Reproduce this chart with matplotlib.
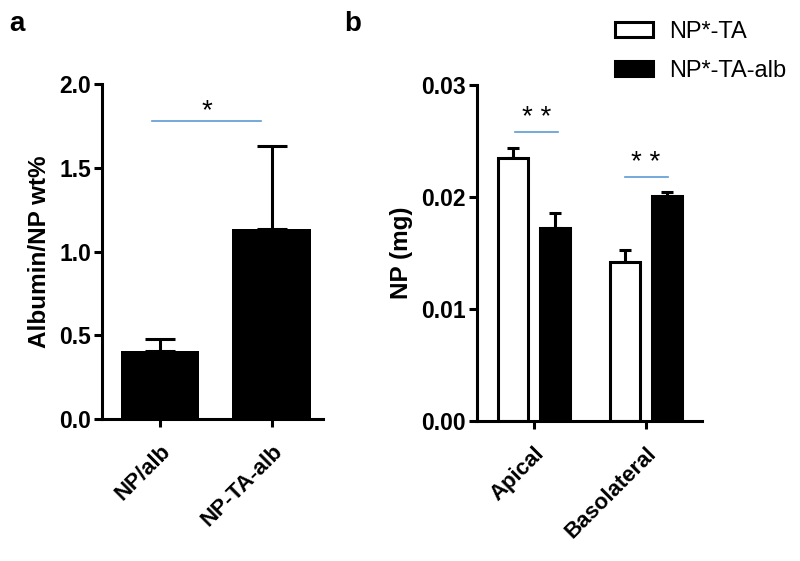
import matplotlib
matplotlib.use("Agg")
import matplotlib.pyplot as plt
from matplotlib import font_manager
import numpy as np

# keep the regular-width Liberation Sans (no Narrow variant)
font_manager.fontManager.ttflist = [f for f in font_manager.fontManager.ttflist
                                    if "Narrow" not in f.name and "Narrow" not in f.fname]
plt.rcParams["font.family"] = ["Liberation Sans", "DejaVu Sans"]

# Panel a
a_labels = ["NP/alb", "NP-TA-alb"]
a_values = [0.405, 1.135]
a_errors = [0.075, 0.495]

# Panel b
b_groups = ["Apical", "Basolateral"]
b_series = ["NP*-TA", "NP*-TA-alb"]
b_ta = [0.0235, 0.0142]
b_ta_err = [0.0009, 0.0011]
b_alb = [0.0172, 0.0201]
b_alb_err = [0.0014, 0.0003]

LW = 2.2
SIG = "#5b9bd5"
TICK_FS = 16.5
XLAB_FS = 16
YLAB_FS = 17.5

fig = plt.figure(figsize=(8, 5.61), dpi=100)


def style_axis(ax):
    for s in ["top", "right"]:
        ax.spines[s].set_visible(False)
    for s in ["left", "bottom"]:
        ax.spines[s].set_linewidth(LW)
    ax.tick_params(width=LW, length=6)
    ax.tick_params(axis="y", labelsize=TICK_FS, pad=2)
    ax.tick_params(axis="x", labelsize=XLAB_FS, pad=10)
    for lab in ax.get_yticklabels():
        lab.set_fontweight("bold")
    for lab in ax.get_xticklabels():
        lab.set_fontweight("bold")
        lab.set_rotation(45)
        lab.set_ha("right")
        lab.set_rotation_mode("anchor")


# ─── Panel a ───
ax1 = fig.add_axes([0.1275, 0.253, 0.2765, 0.597])
x = np.arange(len(a_labels))
ax1.bar(x, a_values, width=0.705, color="black", zorder=2)
ax1.errorbar(x, a_values, yerr=[np.zeros(len(a_errors)), a_errors], fmt="none",
             ecolor="black", elinewidth=LW, capsize=10.5, capthick=LW, zorder=1)
ax1.set_xlim(-0.52, 1.46)
ax1.set_ylim(0, 2.0)
ax1.set_yticks([0.0, 0.5, 1.0, 1.5, 2.0])
ax1.set_yticklabels(["0.0", "0.5", "1.0", "1.5", "2.0"])
ax1.set_xticks(x)
ax1.set_xticklabels(a_labels)
ax1.set_ylabel("Albumin/NP wt%", fontsize=YLAB_FS, fontweight="bold", labelpad=6)
ax1.plot([-0.07, 0.9], [1.78, 1.78], color=SIG, lw=1.2)
ax1.text(0.415, 1.76, "*", ha="center", va="bottom", fontsize=20)
style_axis(ax1)

# ─── Panel b ───
ax2 = fig.add_axes([0.596, 0.2496, 0.2815, 0.599])
xb = np.arange(len(b_groups))
off = 0.185
w = 0.27
ax2.bar(xb - off, b_ta, width=w, color="white", edgecolor="black", linewidth=LW,
        label=b_series[0], zorder=2)
ax2.bar(xb + off, b_alb, width=w, color="black", edgecolor="black", linewidth=LW,
        label=b_series[1], zorder=2)
ax2.errorbar(xb - off, b_ta, yerr=[np.zeros(2), b_ta_err], fmt="none", ecolor="black",
             elinewidth=LW, capsize=4.5, capthick=LW, zorder=1)
ax2.errorbar(xb + off, b_alb, yerr=[np.zeros(2), b_alb_err], fmt="none", ecolor="black",
             elinewidth=LW, capsize=4.5, capthick=LW, zorder=1)
ax2.set_xlim(-0.51, 1.5)
ax2.set_ylim(0, 0.03)
ax2.set_yticks([0.0, 0.01, 0.02, 0.03])
ax2.set_yticklabels(["0.00", "0.01", "0.02", "0.03"])
ax2.set_xticks(xb)
ax2.set_xticklabels(b_groups)
ax2.set_ylabel("NP (mg)", fontsize=YLAB_FS, fontweight="bold", labelpad=6)
ax2.plot([-0.17, 0.215], [0.0258, 0.0258], color=SIG, lw=1.2)
ax2.text(0.02, 0.0259, "* *", ha="center", va="bottom", fontsize=20)
ax2.plot([0.81, 1.195], [0.0218, 0.0218], color=SIG, lw=1.2)
ax2.text(1.0, 0.0219, "* *", ha="center", va="bottom", fontsize=20)
style_axis(ax2)

leg = fig.legend(loc="upper left", bbox_to_anchor=(615 / 800, 1 - 21 / 561),
                 frameon=False, fontsize=17, handlelength=1.6, handleheight=0.62,
                 handletextpad=0.7, labelspacing=0.7, borderpad=0, borderaxespad=0)

fig.text(0.012, 0.945, "a", fontsize=20, fontweight="bold")
fig.text(0.43, 0.945, "b", fontsize=20, fontweight="bold")

fig.savefig("out.png", dpi=100)
